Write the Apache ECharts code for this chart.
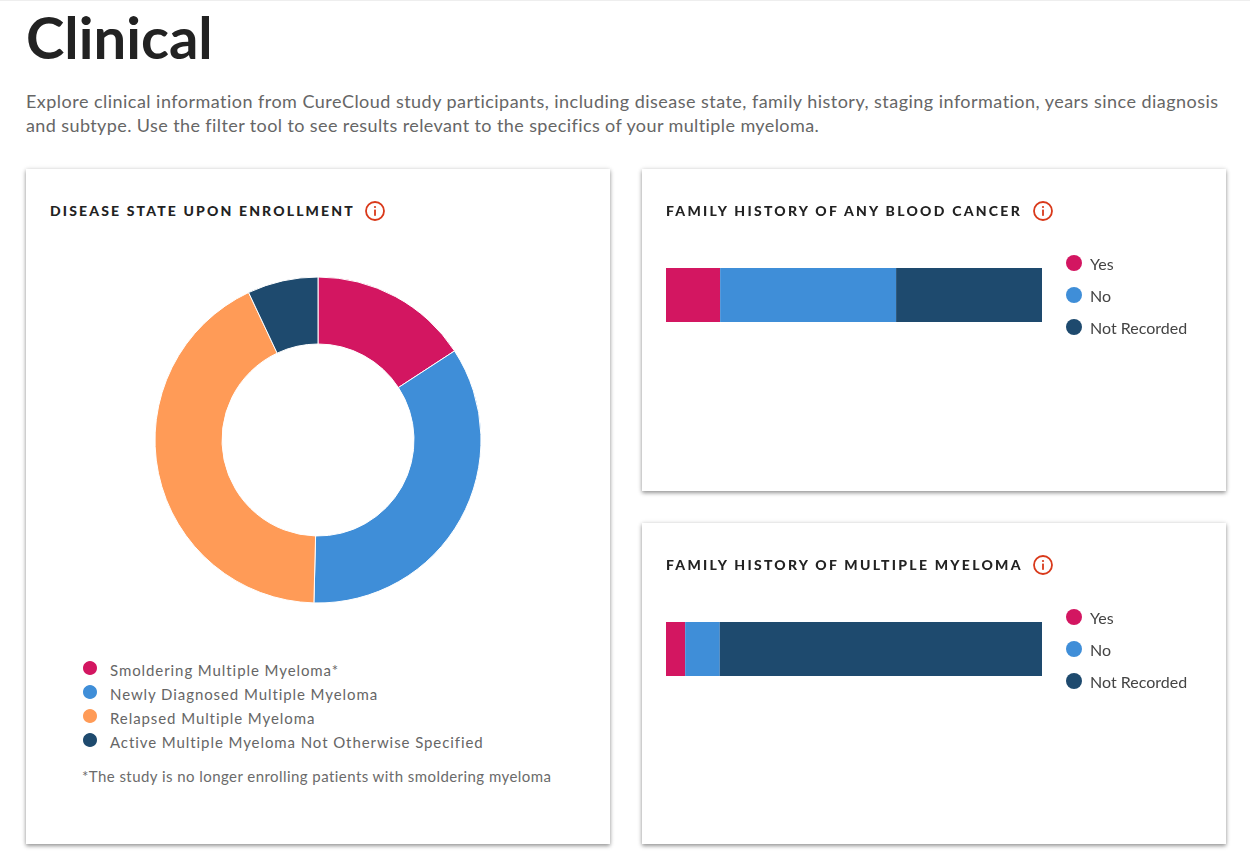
<!DOCTYPE html>
<html><head><meta charset="utf-8">
<script src="https://cdn.jsdelivr.net/npm/echarts@6/dist/echarts.min.js"></script>
<style>
html,body{margin:0;padding:0;width:1250px;height:853px;overflow:hidden;background:#fff;font-family:Lato,sans-serif}
.top{position:absolute;left:0;top:0;width:1250px;height:1px;background:#eee}
h1{position:absolute;left:26px;top:3px;margin:0;font-size:58px;line-height:68px;font-weight:700;color:#222;letter-spacing:0}
p.intro{position:absolute;left:26px;top:89px;margin:0;width:1210px;font-size:18px;line-height:24px;color:#666;white-space:nowrap}
p.intro span{display:block}
.card{position:absolute;background:#fff;width:584px;box-shadow:0 2px 4px rgba(0,0,0,.38),0 0 5px rgba(0,0,0,.1)}
.card h2{position:absolute;left:24px;top:33px;margin:0;font-size:14px;line-height:18px;font-weight:900;color:#222;letter-spacing:2.27px;white-space:nowrap}
.card svg.info{position:absolute;top:32px;width:20px;height:20px}
.chart{position:absolute;left:0;top:0;width:584px;height:100%}
.note{position:absolute;left:56px;top:597px;font-size:15px;line-height:20px;color:#6b6b6b;letter-spacing:.44px;white-space:nowrap}
#donut text{letter-spacing:.92px}
</style></head><body>
<div class="top"></div>
<h1>Clinical</h1>
<p class="intro"><span style="letter-spacing:.47px">Explore clinical information from CureCloud study participants, including disease state, family history, staging information, years since diagnosis</span><span style="letter-spacing:.4px">and subtype. Use the filter tool to see results relevant to the specifics of your multiple myeloma.</span></p>

<div class="card" style="left:26px;top:169px;height:675px">
  <div class="chart" id="donut"></div>
  <h2 id="t1" style="letter-spacing:2.15px"></h2><svg class="info" style="left:339px" viewBox="0 0 20 20"><circle cx="10" cy="10" r="9" fill="none" stroke="#d9391a" stroke-width="1.8"/><circle cx="10" cy="6" r="1.1" fill="#d9391a"/><rect x="9.1" y="8.6" width="1.8" height="6.2" fill="#d9391a"/></svg>
  <div class="note" id="note"></div>
</div>
<div class="card" style="left:642px;top:169px;height:322px">
  <div class="chart" id="bar1"></div>
  <h2 id="t2"></h2><svg class="info" style="left:391px" viewBox="0 0 20 20"><circle cx="10" cy="10" r="9" fill="none" stroke="#d9391a" stroke-width="1.8"/><circle cx="10" cy="6" r="1.1" fill="#d9391a"/><rect x="9.1" y="8.6" width="1.8" height="6.2" fill="#d9391a"/></svg>
</div>
<div class="card" style="left:642px;top:523px;height:321px">
  <div class="chart" id="bar2"></div>
  <h2 id="t3"></h2><svg class="info" style="left:391px" viewBox="0 0 20 20"><circle cx="10" cy="10" r="9" fill="none" stroke="#d9391a" stroke-width="1.8"/><circle cx="10" cy="6" r="1.1" fill="#d9391a"/><rect x="9.1" y="8.6" width="1.8" height="6.2" fill="#d9391a"/></svg>
</div>
<script>
var diseaseStates = ['Smoldering Multiple Myeloma*','Newly Diagnosed Multiple Myeloma','Relapsed Multiple Myeloma','Active Multiple Myeloma Not Otherwise Specified'];
var diseaseValues = [15.8, 34.6, 42.6, 7.0];
var diseaseColors = ['#d31661','#3f8ed8','#ff9b57','#1e4a6e'];
var historyCategories = ['Yes','No','Not Recorded'];
var historyColors = ['#d31661','#3f8ed8','#1e4a6e'];
var bloodCancerValues = [14.4, 46.8, 38.8];
var myelomaValues = [5.1, 9.2, 85.7];
var titles = ['DISEASE STATE UPON ENROLLMENT','FAMILY HISTORY OF ANY BLOOD CANCER','FAMILY HISTORY OF MULTIPLE MYELOMA'];
var footnote = '*The study is no longer enrolling patients with smoldering myeloma';

['t1','t2','t3'].forEach(function(id,i){document.getElementById(id).textContent=titles[i];});
document.getElementById('note').textContent=footnote;

function shifted(name){ return '{t|' + name + '}'; }

var donut = echarts.init(document.getElementById('donut'),null,{renderer:'svg'});
donut.setOption({
  animation:false,
  legend:{left:50,top:485,orient:'vertical',itemWidth:16,itemHeight:16,itemGap:6,icon:'circle',selectedMode:false,
    data:diseaseStates,formatter:shifted,
    textStyle:{fontFamily:'Lato',fontSize:15,color:'#666',
      rich:{t:{fontFamily:'Lato',fontSize:15,color:'#666',padding:[3,0,0,7],lineHeight:16}}}},
  series:[{type:'pie',center:[292,271],radius:[96,163],startAngle:90,clockwise:true,silent:true,
    label:{show:false},labelLine:{show:false},
    itemStyle:{borderColor:'#fff',borderWidth:1},
    data:diseaseStates.map(function(n,i){return {name:n,value:diseaseValues[i],itemStyle:{color:diseaseColors[i]}};})}]
});

function barChart(id,values,top){
  var c = echarts.init(document.getElementById(id));
  c.setOption({
    animation:false,
    legend:{left:419,top:top-20,orient:'vertical',itemWidth:16,itemHeight:16,itemGap:12,icon:'circle',selectedMode:false,
      data:historyCategories,formatter:shifted,
      textStyle:{fontFamily:'Lato',fontSize:16,color:'#444',
        rich:{t:{fontFamily:'Lato',fontSize:16,color:'#444',padding:[4,0,0,3],lineHeight:16}}}},
    grid:{left:24,width:376,top:top,height:54},
    xAxis:{type:'value',min:0,max:100,show:false},
    yAxis:{type:'category',data:['History'],show:false},
    series:historyCategories.map(function(n,i){
      return {type:'bar',name:n,stack:'t',barWidth:'100%',silent:true,data:[values[i]],itemStyle:{color:historyColors[i]}};
    })
  });
}
barChart('bar1',bloodCancerValues,99);
barChart('bar2',myelomaValues,99);
</script>
</body></html>
